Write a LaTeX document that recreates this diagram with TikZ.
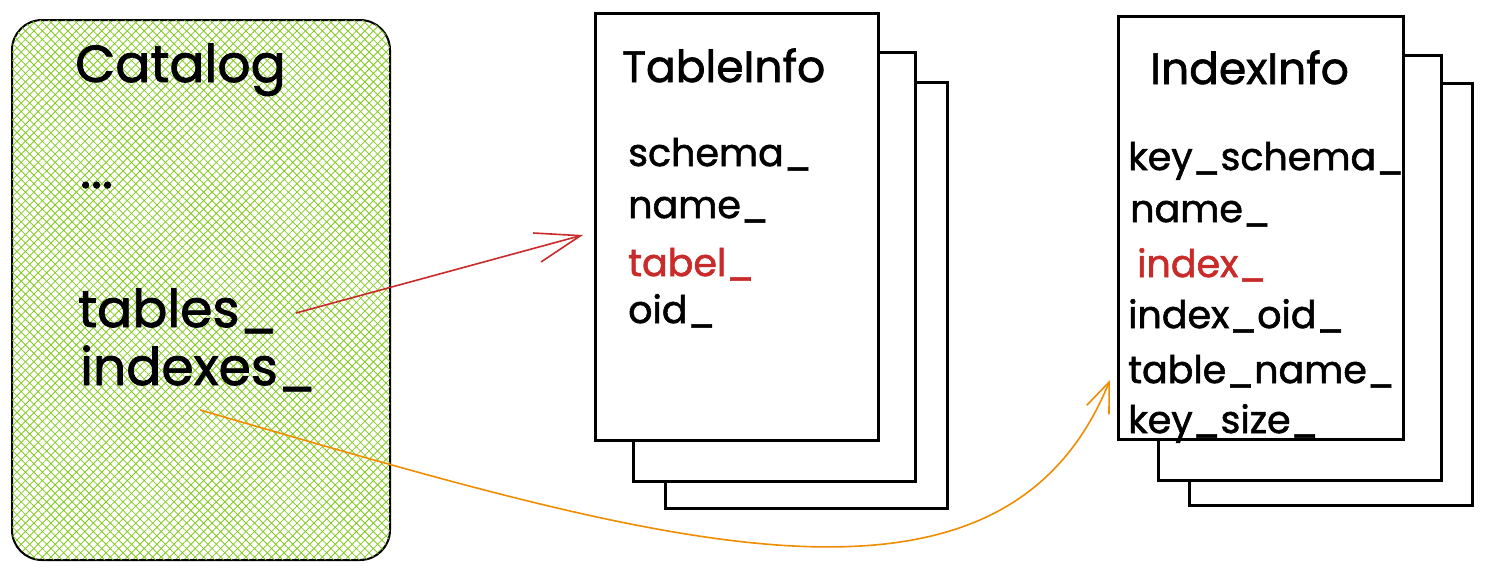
\documentclass[tikz,border=0pt]{standalone}
\usepackage{fontspec}
\setmainfont{Poppins}[FakeBold=1.5]
\usetikzlibrary{arrows.meta,patterns.meta}
\definecolor{hatch}{HTML}{82C91E}
\definecolor{redc}{HTML}{C92A2A}
\definecolor{orangec}{HTML}{F08C00}
\tikzset{
  catbox/.style={draw=black, line width=2pt, rounded corners=30pt,
    pattern={Lines[angle=45,distance=6pt,line width=0.8pt]}, pattern color=hatch,
    postaction={pattern={Lines[angle=-45,distance=6pt,line width=0.8pt]}, pattern color=hatch}},
  page/.style={draw=black, fill=white, line width=3pt, inner sep=0pt},
  txt/.style={anchor=base west, inner sep=0pt, font=\fontsize{38}{38}\selectfont},
  ttl/.style={anchor=base west, inner sep=0pt, font=\fontsize{44}{44}\selectfont},
  bigtxt/.style={anchor=base west, inner sep=0pt, font=\fontsize{52}{52}\selectfont},
  redarr/.style={draw=redc, line width=1.6pt, -{Straight Barb[length=45pt,width=30pt,line width=1.6pt]}},
  orarr/.style={draw=orangec, line width=1.6pt, -{Straight Barb[length=30pt,width=24pt,line width=1.6pt]}},
}
\begin{document}
\begin{tikzpicture}[x=1pt,y=-1pt]
\useasboundingbox (0,0) rectangle (1512,574);
% Catalog
\node[catbox, minimum width=378pt, minimum height=540pt] (cat) at (201,290) {};
\node[bigtxt] (catt) at (75,82) {Catalog};
\node[bigtxt] (dots) at (80,188) {...};
\node[bigtxt] (tables) at (78,327) {tables\_};
\node[bigtxt] (indexes) at (80,385) {indexes\_};
% TableInfo stack
\node[page, minimum width=282pt, minimum height=426pt] (tp3) at (806,295) {};
\node[page, minimum width=282pt, minimum height=429pt] (tp2) at (774,266.5) {};
\node[page, minimum width=283pt, minimum height=427pt] (tp1) at (736.5,226.5) {};
\node[ttl] (ttitle) at (622,82) {TableInfo};
\node[txt] (t1) at (628,166) {schema\_};
\node[txt] (t2) at (628,218) {name\_};
\node[txt, text=redc] (t3) at (628,276) {tabel\_};
\node[txt] (t4) at (628,323) {oid\_};
% IndexInfo stack
\node[page, minimum width=283pt, minimum height=422pt] (ip3) at (1330.5,294) {};
\node[page, minimum width=283pt, minimum height=425pt] (ip2) at (1299.5,267.5) {};
\node[page, minimum width=285pt, minimum height=423pt] (ip1) at (1260.5,227.5) {};
\node[ttl] (ititle) at (1150,84) {IndexInfo};
\node[txt] (i1) at (1128,170) {key\_schema\_};
\node[txt] (i2) at (1130,222) {name\_};
\node[txt, text=redc] (i3) at (1137,277) {index\_};
\node[txt] (i4) at (1128,328) {index\_oid\_};
\node[txt] (i5) at (1128,383) {table\_name\_};
\node[txt] (i6) at (1128,433) {key\_size\_};
% connectors
\coordinate (rs) at (296,313);
\coordinate (re) at (583,235);
\coordinate (os) at (200,410);
\coordinate (oe) at (1110,380);
\draw[redarr] (rs) -- (re);
\draw[orarr] (os) .. controls (650,540) and (1000,650) .. (oe);
\end{tikzpicture}
\end{document}
